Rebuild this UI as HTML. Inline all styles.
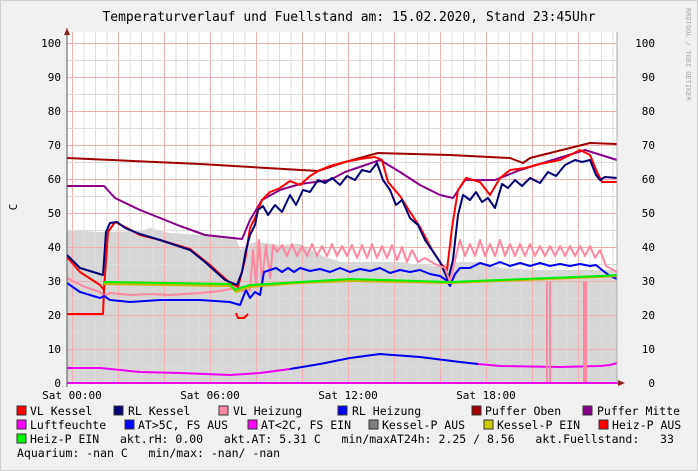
<!DOCTYPE html>
<html><head><style>
body{margin:0;background:#f0f0f0;}
svg{display:block;font-family:"DejaVu Sans Mono","Liberation Mono",monospace;}
</style></head><body>
<svg width="698" height="471" xmlns="http://www.w3.org/2000/svg">
<rect x="0" y="0" width="698" height="471" fill="#f0f0f0" stroke="#cfcfcf" stroke-width="2"/>
<text x="349" y="21" font-size="13" text-anchor="middle" fill="#000">Temperaturverlauf und Fuellstand am: 15.02.2020, Stand 23:45Uhr</text>
<text transform="translate(686,8) rotate(90)" font-size="7" fill="#aaa">RRDTOOL / TOBI OETIKER</text>
<rect x="67" y="32" width="550" height="351" fill="#fff"/>
<!-- grey area -->
<polygon fill="#d6d6d6" points="67,383 67,230 100,232 140,231 150,228 170,233 200,235 236,237 240,250 246,245 255,242 280,245 300,244 320,255 340,262 360,262 400,262 420,265 440,266 460,262 480,262 500,268 540,270 580,270 617,270 617,383"/>
<g id="grid"></g>
<!-- lines -->
<g fill="none" stroke-width="2" stroke-linejoin="round">
<polyline stroke="#a00000" points="67,158 200,164 318,171 330,167 345,162 378,153 450,155 510,158 523,163 530,158 590,143 617,144"/>
<polyline stroke="#880088" points="67,186 104,186 115,198 140,210 180,226 205,235 242,239 250,220 262,200 280,190 300,184 330,180 345,172 380,160 400,172 420,185 440,195 453,198 465,180 495,180 520,170 585,150 617,160"/>
<polyline stroke="#ff0000" points="67,314 103,314 104,290"/>
<polyline stroke="#ff0000" points="236,313 238,318 244,318 248,314"/>
<polyline stroke="#ff0000" points="67,257 80,272 100,285 104,290 108,232 115,222 125,227 140,235 160,240 190,249 210,265 230,283 238,287 245,260 250,228 255,218 262,200 270,192 280,188 290,181 300,185 310,176 320,170 330,166 345,162 360,159 375,157 382,160 388,182 400,196 410,212 420,227 432,250 442,265 447,270 452,228 458,190 466,178 480,182 490,195 500,178 510,170 525,168 540,164 560,160 580,150 590,155 597,172 602,182 617,182"/>
<polyline stroke="#000077" points="67,255 80,268 103,275 106,232 110,223 117,222 125,228 140,234 160,240 190,250 205,262 225,280 237,285 242,272 246,250 250,235 255,225 258,210 263,206 268,215 275,205 282,212 290,195 296,205 303,190 310,192 318,180 325,183 332,178 340,185 347,176 355,180 362,170 370,172 377,163 383,180 390,190 396,205 402,200 410,218 418,225 425,240 432,250 440,262 448,280 453,260 458,215 463,195 470,200 476,192 482,202 488,198 495,208 502,184 508,188 515,180 522,186 530,178 540,183 548,172 556,176 565,165 575,160 582,162 590,160 596,175 600,180 605,177 617,178"/>
<polyline stroke="#ff88a0" points="67,278 85,287 100,292 104,296 110,293 130,295 150,294 170,295 200,293 220,291 235,288 245,292 250,290 253,250 256,285 259,240 262,282 266,245 270,278 273,245 277,252 282,245 287,256 292,244 297,256 302,246 307,256 312,244 317,256 322,246 327,256 332,244 337,256 342,246 347,256 352,245 357,258 362,245 367,258 372,244 377,258 382,246 387,258 392,245 397,260 402,247 407,262 412,250 418,262 425,258 435,264 445,268 450,282 455,260 460,240 465,256 470,244 475,256 480,240 485,256 490,244 495,256 500,240 505,256 510,244 515,256 520,244 525,256 530,244 535,256 540,246 545,256 550,246 555,256 560,246 565,256 570,246 575,256 580,246 585,256 590,246 595,258 600,250 606,266 617,272"/>
<polyline stroke="#0000ff" points="67,283 80,292 100,298 104,296 110,300 130,302 160,300 200,300 230,302 240,305 246,290 250,298 255,292 260,295 264,272 270,270 276,268 282,272 288,268 294,272 300,268 310,271 320,269 330,272 340,268 350,272 360,269 370,271 380,268 390,273 400,270 410,272 420,270 430,274 440,276 446,280 450,286 455,274 460,268 470,268 480,263 490,266 500,262 510,266 520,263 530,266 540,263 550,266 560,264 570,266 580,264 590,266 596,265 602,270 610,276 617,279"/>
<polyline stroke="#c8b400" points="104,284 230,286 236,292 250,287 300,283 350,281 450,283 600,277 617,276"/>
<polyline stroke="#00ee00" points="104,282 230,284 235,290 240,288 250,285 300,282 350,279 450,282 600,276 617,275"/>
<polyline stroke="#ee00ee" points="67,368 100,368 140,372 180,373 230,375 260,373 290,369"/>
<polyline stroke="#0000ee" points="290,369 320,364 350,358 380,354 420,357 460,362 478,364"/>
<polyline stroke="#ee00ee" points="478,364 500,366 560,367 600,366 610,365 617,363"/>
</g>
<g fill="#ff88a0">
<rect x="546" y="281" width="2" height="102"/><rect x="549" y="281" width="2" height="102"/>
<rect x="583" y="281" width="4" height="102"/>
</g>
<line x1="67" y1="383" x2="621" y2="383" stroke="#ee00ee" stroke-width="2"/>
<line x1="67" y1="28" x2="67" y2="387" stroke="#555" stroke-width="1"/>
<polygon points="64,35 70,35 67,28" fill="#902020"/>
<polygon points="618,380 618,386 625,383" fill="#902020"/>
<line x1="617" y1="32" x2="617" y2="383" stroke="#aaa" stroke-width="1"/>
<g id="labels" font-size="11" fill="#000"></g>
<text transform="translate(17,207) rotate(-90)" font-size="11" text-anchor="middle">C</text>
<g font-size="11" text-anchor="middle">
<text x="72" y="399">Sat 00:00</text>
<text x="210" y="399">Sat 06:00</text>
<text x="348" y="399">Sat 12:00</text>
<text x="486" y="399">Sat 18:00</text>
</g>
<g font-size="11.5" fill="#000">
<rect x="17" y="406" width="9" height="9" fill="#ff0000" stroke="#333"/><text x="30" y="415">VL Kessel</text>
<rect x="114" y="406" width="9" height="9" fill="#000077" stroke="#333"/><text x="128" y="415">RL Kessel</text>
<rect x="219" y="406" width="9" height="9" fill="#ff88a0" stroke="#333"/><text x="233" y="415">VL Heizung</text>
<rect x="338" y="406" width="9" height="9" fill="#0000ff" stroke="#333"/><text x="352" y="415">RL Heizung</text>
<rect x="472" y="406" width="9" height="9" fill="#a00000" stroke="#333"/><text x="485" y="415">Puffer Oben</text>
<rect x="583" y="406" width="9" height="9" fill="#880088" stroke="#333"/><text x="597" y="415">Puffer Mitte</text>
<rect x="17" y="420" width="9" height="9" fill="#ff00ff" stroke="#333"/><text x="30" y="429">Luftfeuchte</text>
<rect x="125" y="420" width="9" height="9" fill="#0000ff" stroke="#333"/><text x="138" y="429">AT&gt;5C, FS AUS</text>
<rect x="248" y="420" width="9" height="9" fill="#ff00ff" stroke="#333"/><text x="261" y="429">AT&lt;2C, FS EIN</text>
<rect x="369" y="420" width="9" height="9" fill="#808080" stroke="#333"/><text x="382" y="429">Kessel-P AUS</text>
<rect x="484" y="420" width="9" height="9" fill="#cccc00" stroke="#333"/><text x="497" y="429">Kessel-P EIN</text>
<rect x="599" y="420" width="9" height="9" fill="#ff0000" stroke="#333"/><text x="612" y="429">Heiz-P AUS</text>
<rect x="17" y="434" width="9" height="9" fill="#00ff00" stroke="#333"/><text x="30" y="443" xml:space="preserve">Heiz-P EIN   akt.rH: 0.00   akt.AT: 5.31 C   min/maxAT24h: 2.25 / 8.56   akt.Fuellstand:   33</text>
<text x="17" y="457" xml:space="preserve">Aquarium: -nan C   min/max: -nan/ -nan</text>
</g>
<script>
var ns="http://www.w3.org/2000/svg",g=document.getElementById("grid"),L=document.getElementById("labels");
function ln(x1,y1,x2,y2,c){var l=document.createElementNS(ns,"line");l.setAttribute("x1",x1);l.setAttribute("y1",y1);l.setAttribute("x2",x2);l.setAttribute("y2",y2);l.setAttribute("stroke",c);l.setAttribute("stroke-width",1);g.appendChild(l);}
for(var i=-1;i<48;i++){var x=72+11.5*i;if(x<67||x>617)continue;var maj=(i%4==0);ln(x+0.5,32,x+0.5,383,maj?"#f0b0b0":"#dcdcdc");}
for(var v=0;v<=105;v+=5){var y=383-3.4*v;if(y<32)continue;ln(67,y+0.5,617,y+0.5,(v%10==0)?"#f0b0b0":"#dcdcdc");
if(v%10==0){var t=document.createElementNS(ns,"text");t.setAttribute("x",61);t.setAttribute("y",y+4);t.setAttribute("text-anchor","end");t.textContent=v;L.appendChild(t);
var t2=document.createElementNS(ns,"text");t2.setAttribute("x",655);t2.setAttribute("y",y+4);t2.setAttribute("text-anchor","end");t2.textContent=v;L.appendChild(t2);}}
</script>
</svg>
</body></html>
